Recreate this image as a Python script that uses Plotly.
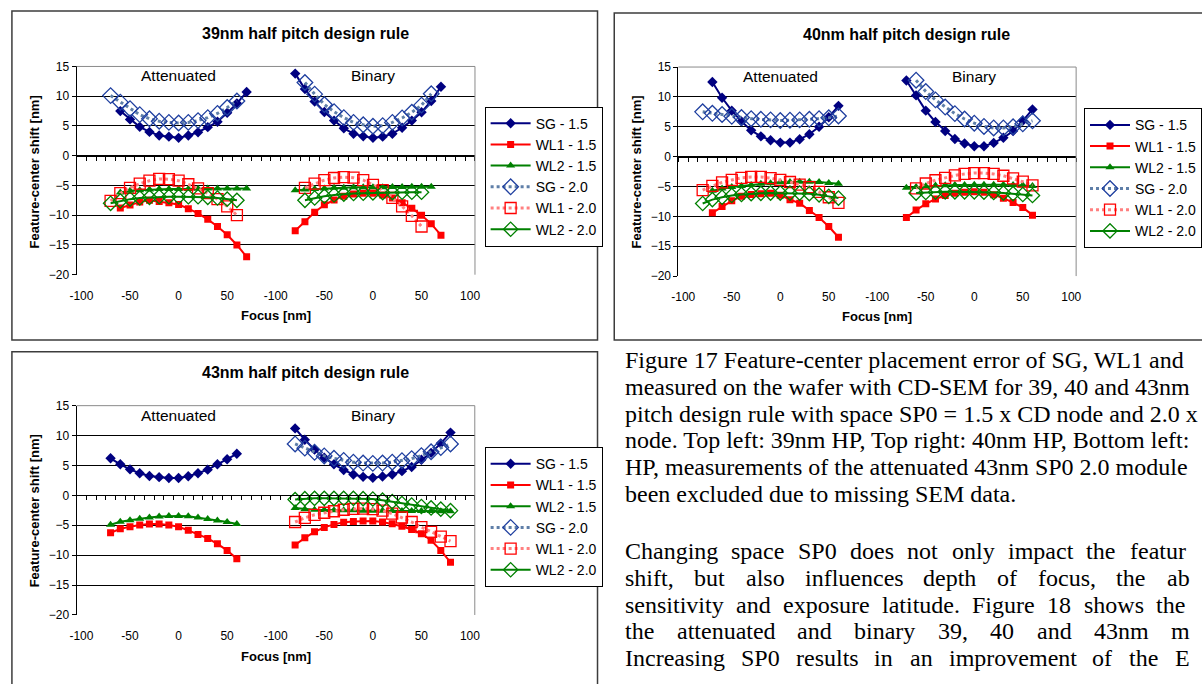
import plotly.graph_objects as go

W, H = 1202, 684

# ---------------- categories / labels ----------------
FOCUS_ATT = [-100, -90, -80, -70, -60, -50, -40, -30, -20, -10, 0, 10, 20, 30, 40, 50, 60, 70, 80, 90]
FOCUS_BIN = [-100, -90, -80, -70, -60, -50, -40, -30, -20, -10, 0, 10, 20, 30, 40, 50, 60, 70, 80, 90, 100]
SEGMENTS = ["Attenuated", "Binary"]
SERIES = ["SG - 1.5", "WL1 - 1.5", "WL2 - 1.5", "SG - 2.0", "WL1 - 2.0", "WL2 - 2.0"]
TITLES = ["39nm half pitch design rule", "40nm half pitch design rule", "43nm half pitch design rule"]
Y_TICKS = [-20, -15, -10, -5, 0, 5, 10, 15]

# ---------------- data: (first focus [nm], values every 10 nm) ----------------
# 39 nm half pitch
HP39_ATT_SG15 = (-60, [7.5, 6.1, 4.85, 4.0, 3.4, 3.2, 3.0, 3.4, 3.95, 4.8, 5.7, 7.2, 8.8, 10.7])
HP39_ATT_WL1_15 = (-60, [-8.8, -8.3, -7.8, -7.5, -7.7, -7.9, -8.2, -8.9, -9.7, -10.7, -11.9, -13.3, -15.0, -17.0])
HP39_ATT_WL2_15 = (-60, [-6.2, -5.9, -5.8, -5.7, -5.6, -5.6, -5.6, -5.6, -5.55, -5.5, -5.5, -5.5, -5.5, -5.5])
HP39_ATT_SG20 = (-70, [10.1, 9.0, 7.9, 6.9, 6.2, 5.8, 5.6, 5.5, 5.6, 5.9, 6.4, 7.1, 8.1, 9.2])
HP39_ATT_WL1_20 = (-70, [-7.6, -6.3, -5.4, -4.7, -4.2, -3.9, -3.95, -4.2, -4.8, -5.5, -6.3, -7.3, -8.5, -10.0])
HP39_ATT_WL2_20 = (-70, [-8.0, -7.6, -7.3, -7.1, -7.0, -6.9, -6.9, -6.9, -6.9, -6.9, -7.0, -7.1, -7.3, -7.5])
HP39_BIN_SG15 = (-80, [13.8, 11.2, 9.1, 7.35, 5.9, 4.6, 3.7, 3.25, 3.0, 3.2, 3.7, 4.7, 5.9, 7.3, 9.2, 11.6])
HP39_BIN_WL1_15 = (-80, [-12.6, -11.1, -9.5, -8.25, -7.45, -6.8, -6.45, -6.3, -6.3, -6.6, -7.1, -7.9, -8.85, -10.0, -11.45, -13.35])
HP39_BIN_WL2_15 = (-80, [-5.8, -5.7, -5.6, -5.5, -5.4, -5.4, -5.3, -5.3, -5.3, -5.3, -5.25, -5.25, -5.2, -5.2, -5.2])
HP39_BIN_SG20 = (-70, [12.3, 10.35, 8.6, 7.4, 6.4, 5.6, 5.2, 4.95, 5.05, 5.6, 6.35, 7.3, 8.5, 10.4])
HP39_BIN_WL1_20 = (-70, [-5.4, -4.7, -4.1, -3.75, -3.6, -3.7, -4.1, -4.9, -5.8, -7.1, -8.5, -10.1, -11.9])
HP39_BIN_WL2_20 = (-70, [-7.5, -7.1, -6.8, -6.6, -6.45, -6.35, -6.3, -6.25, -6.2, -6.2, -6.15, -6.15, -6.15])

# 40 nm half pitch
HP40_ATT_SG15 = (-70, [12.5, 9.85, 7.7, 5.9, 4.4, 3.4, 2.75, 2.35, 2.35, 2.9, 3.75, 5.0, 6.6, 8.5])
HP40_ATT_WL1_15 = (-70, [-9.4, -8.35, -7.4, -6.65, -6.35, -6.2, -6.15, -6.45, -7.2, -7.8, -9.0, -10.2, -11.7, -13.5])
HP40_ATT_WL2_15 = (-70, [-5.7, -5.35, -5.1, -4.9, -4.75, -4.55, -4.45, -4.3, -4.25, -4.2, -4.2, -4.25, -4.4, -4.55])
HP40_ATT_SG20 = (-80, [7.5, 7.25, 7.05, 6.75, 6.55, 6.35, 6.25, 6.15, 6.05, 6.1, 6.15, 6.25, 6.35, 6.5, 6.8])
HP40_ATT_WL1_20 = (-80, [-5.6, -4.9, -4.3, -3.9, -3.55, -3.4, -3.4, -3.6, -3.9, -4.25, -4.7, -5.1, -5.9, -6.8, -7.75])
HP40_ATT_WL2_20 = (-80, [-7.85, -7.2, -6.8, -6.5, -6.35, -6.2, -6.15, -6.1, -6.1, -6.1, -6.1, -6.2, -6.4, -6.65, -6.95])
HP40_BIN_SG15 = (-70, [12.75, 10.25, 7.7, 5.8, 4.3, 2.95, 2.2, 1.75, 1.75, 2.3, 3.15, 4.3, 6.0, 7.9])
HP40_BIN_WL1_15 = (-70, [-10.2, -8.95, -7.9, -7.1, -6.5, -6.15, -5.95, -5.9, -5.95, -6.4, -6.95, -7.7, -8.5, -9.8])
HP40_BIN_WL2_15 = (-70, [-5.2, -5.1, -4.95, -4.85, -4.8, -4.75, -4.75, -4.7, -4.7, -4.7, -4.7, -4.75, -4.8, -4.9])
HP40_BIN_SG20 = (-60, [12.8, 10.9, 9.5, 8.3, 7.2, 6.3, 5.6, 5.05, 4.8, 4.8, 5.0, 5.5, 6.0])
HP40_BIN_WL1_20 = (-60, [-5.3, -4.5, -3.95, -3.55, -3.15, -2.9, -2.75, -2.75, -2.9, -3.2, -3.65, -4.2, -4.8])
HP40_BIN_WL2_20 = (-60, [-6.1, -6.0, -5.95, -5.9, -5.9, -5.9, -5.9, -5.95, -6.0, -6.1, -6.2, -6.35, -6.5])

# 43 nm half pitch (attenuated SP0 2.0 excluded)
HP43_ATT_SG15 = (-70, [6.2, 5.2, 4.35, 3.7, 3.25, 3.05, 2.9, 2.9, 3.2, 3.7, 4.3, 5.2, 6.05, 6.95])
HP43_ATT_WL1_15 = (-70, [-6.25, -5.6, -5.25, -4.95, -4.8, -4.8, -4.95, -5.25, -5.85, -6.55, -7.2, -8.1, -9.2, -10.6])
HP43_ATT_WL2_15 = (-70, [-4.9, -4.4, -4.15, -3.9, -3.7, -3.55, -3.45, -3.45, -3.5, -3.7, -3.95, -4.2, -4.45, -4.8])
HP43_BIN_SG15 = (-80, [11.2, 9.3, 7.65, 6.3, 5.2, 4.25, 3.5, 3.1, 2.95, 3.15, 3.5, 4.05, 4.75, 5.95, 7.1, 8.7, 10.5])
HP43_BIN_WL1_15 = (-80, [-8.3, -7.1, -6.1, -5.35, -4.85, -4.5, -4.35, -4.3, -4.3, -4.45, -4.75, -5.15, -5.7, -6.4, -7.5, -9.2, -11.2])
HP43_BIN_WL2_15 = (-80, [-2.1, -2.3, -2.4, -2.45, -2.5, -2.5, -2.5, -2.55, -2.55, -2.55, -2.6, -2.6, -2.6, -2.6, -2.6, -2.65, -2.65])
HP43_BIN_SG20 = (-80, [8.6, 7.9, 7.2, 6.6, 6.2, 5.85, 5.55, 5.4, 5.35, 5.4, 5.55, 5.8, 6.15, 6.65, 7.3, 8.0, 8.6])
HP43_BIN_WL1_20 = (-80, [-4.45, -3.75, -3.25, -2.9, -2.65, -2.4, -2.25, -2.2, -2.3, -2.55, -3.05, -3.7, -4.45, -5.3, -6.1, -6.9, -7.65])
HP43_BIN_WL2_20 = (-80, [-0.7, -0.55, -0.5, -0.5, -0.5, -0.5, -0.5, -0.55, -0.6, -0.8, -1.05, -1.35, -1.6, -1.85, -2.1, -2.3, -2.55])

# ---------------- page text (as visible in the cropped page) ----------------
CAPTION_LINES = [
    "Figure 17 Feature-center placement error of SG, WL1 and",
    "measured on the wafer with CD-SEM for 39, 40 and 43nm",
    "pitch design rule with space SP0 = 1.5 x CD node and 2.0 x",
    "node. Top left: 39nm HP, Top right: 40nm HP, Bottom left:",
    "HP, measurements of the attenuated 43nm SP0 2.0 module",
    "been excluded due to missing SEM data.",
]
BODY_LINES = [
    ["Changing", "space", "SP0", "does", "not", "only", "impact", "the", "featur"],
    ["shift,", "but", "also", "influences", "depth", "of", "focus,", "the", "ab"],
    ["sensitivity", "and", "exposure", "latitude.", "Figure", "18", "shows", "the"],
    ["the", "attenuated", "and", "binary", "39,", "40", "and", "43nm", "m"],
    ["Increasing", "SP0", "results", "in", "an", "improvement", "of", "the", "E"],
]
# justified word starts (px)
BODY_WORD_X = [
    [626, 733.7, 801.4, 854.5, 912.9, 958, 1015.1, 1094.8, 1138.5],
    [626, 696.3, 748.6, 808.9, 929.1, 1004, 1045.6, 1125.2, 1176.1],
    [626, 738.3, 786.6, 886.8, 978.4, 1054.7, 1092.3, 1165.9],
    [626, 678.7, 800.7, 858.8, 943.5, 996.9, 1044.3, 1102.4, 1180.5],
    [626, 743.3, 799.3, 879.3, 915.3, 955.3, 1100.6, 1137.9, 1184.5],
]
CAPTION_Y = [360, 387.5, 415, 442.5, 470, 497.5]
BODY_Y = [555, 582.5, 610, 637.5, 665]

# ---------------- helpers ----------------
CATS = [("A", f) for f in FOCUS_ATT] + [("B", f) for f in FOCUS_BIN]
TICK_IDX = list(range(0, len(CATS), 5))
TICK_TXT = [str(CATS[i][1]) for i in TICK_IDX]


def series_xy(att, binr):
    xs, ys = [], []
    for seg, part in (("A", att), ("B", binr)):
        if part is None:
            continue
        start, vals = part
        flist = FOCUS_ATT if seg == "A" else FOCUS_BIN
        i0 = flist.index(start)
        for f, v in zip(flist[i0:], vals):
            xs.append(CATS.index((seg, f)))
            ys.append(v)
        xs.append(xs[-1] + 1)
        ys.append(None)
    return xs, ys


def px(x):
    return x / W


def py(y):
    return 1 - y / H


SANS = "Arial, Liberation Sans, sans-serif"
SERIF = "Times New Roman, Liberation Serif, serif"

STYLE = {
    "SG - 1.5": dict(line=dict(color="#000080", width=2),
                     marker=dict(symbol="diamond", size=8, color="#000080")),
    "WL1 - 1.5": dict(line=dict(color="#ff0000", width=2),
                      marker=dict(symbol="square", size=7, color="#ff0000")),
    "WL2 - 1.5": dict(line=dict(color="#008000", width=2),
                      marker=dict(symbol="triangle-up", size=8, color="#008000")),
    "SG - 2.0": dict(line=dict(color="#5f7fa8", width=3, dash="dot"),
                     marker=dict(symbol="diamond-open", size=12, color="#2040a0",
                                 line=dict(width=1.3, color="#2040a0"))),
    "WL1 - 2.0": dict(line=dict(color="#ff8080", width=3, dash="dot"),
                      marker=dict(symbol="square-open", size=11, color="#ff0000",
                                  line=dict(width=1.3, color="#ff0000"))),
    "WL2 - 2.0": dict(line=dict(color="#008000", width=2),
                      marker=dict(symbol="diamond-open", size=11, color="#008000",
                                  line=dict(width=1.3, color="#008000"))),
}

CHARTS = [
    dict(title=TITLES[0], xa="x", ya="y", leg="legend",
         plot=(70.7, 475.5, 60.7, 273.3), box=(5, 600, 4, 340),
         title_xy=(303, 26.7), ytitle_xy=(28.3, 168), xtitle_xy=(273, 315),
         legend_xy=(485.3, 101.7),
         data=[(HP39_ATT_SG15, HP39_BIN_SG15), (HP39_ATT_WL1_15, HP39_BIN_WL1_15),
               (HP39_ATT_WL2_15, HP39_BIN_WL2_15), (HP39_ATT_SG20, HP39_BIN_SG20),
               (HP39_ATT_WL1_20, HP39_BIN_WL1_20), (HP39_ATT_WL2_20, HP39_BIN_WL2_20)]),
    dict(title=TITLES[1], xa="x2", ya="y2", leg="legend2",
         plot=(682.2, 1086.3, 61.3, 274.7), box=(617, 1230, 6, 340),
         title_xy=(913.7, 28.3), ytitle_xy=(640, 168), xtitle_xy=(884, 316),
         legend_xy=(1094.3, 103.4),
         data=[(HP40_ATT_SG15, HP40_BIN_SG15), (HP40_ATT_WL1_15, HP40_BIN_WL1_15),
               (HP40_ATT_WL2_15, HP40_BIN_WL2_15), (HP40_ATT_SG20, HP40_BIN_SG20),
               (HP40_ATT_WL1_20, HP40_BIN_WL1_20), (HP40_ATT_WL2_20, HP40_BIN_WL2_20)]),
    dict(title=TITLES[2], xa="x3", ya="y3", leg="legend3",
         plot=(70.7, 475.3, 407, 620.7), box=(5, 600, 352, 720),
         title_xy=(303, 373.3), ytitle_xy=(28.3, 514), xtitle_xy=(273, 663.3),
         legend_xy=(485.3, 449.4),
         data=[(HP43_ATT_SG15, HP43_BIN_SG15), (HP43_ATT_WL1_15, HP43_BIN_WL1_15),
               (HP43_ATT_WL2_15, HP43_BIN_WL2_15), (None, HP43_BIN_SG20),
               (None, HP43_BIN_WL1_20), (None, HP43_BIN_WL2_20)]),
]

fig = go.Figure()
layout = dict(width=W, height=H, margin=dict(l=0, r=0, t=0, b=0),
              paper_bgcolor="white", plot_bgcolor="white", showlegend=True)
shapes, annotations = [], []
XRANGE = [-0.5, len(CATS) - 0.5]
YRANGE = [Y_TICKS[0], Y_TICKS[-1]]

for ci, ch in enumerate(CHARTS):
    x0, x1, y0, y1 = ch["plot"]
    xdom = [px(x0), px(x1)]
    ydom = [py(y1), py(y0)]
    xk = "xaxis" + ("" if ci == 0 else str(ci + 1))
    yk = "yaxis" + ("" if ci == 0 else str(ci + 1))
    zk_num = ci + 4
    zk = "xaxis" + str(zk_num)

    for name, (att, binr) in zip(SERIES, ch["data"]):
        xs, ys = series_xy(att, binr)
        st = STYLE[name]
        fig.add_trace(go.Scatter(x=xs, y=ys, mode="lines+markers", name=name,
                                 line=st["line"], marker=st["marker"],
                                 xaxis=ch["xa"], yaxis=ch["ya"], legend=ch["leg"],
                                 hoverinfo="skip"))
    # helper trace so the zero-crossing category axis gets drawn
    fig.add_trace(go.Scatter(x=[None], y=[None], xaxis="x" + str(zk_num), yaxis=ch["ya"],
                             showlegend=False, hoverinfo="skip"))

    layout[xk] = dict(domain=xdom, range=XRANGE, anchor=ch["ya"], tickvals=TICK_IDX,
                      ticktext=TICK_TXT, ticks="outside", ticklen=10,
                      tickcolor="rgba(0,0,0,0)", showline=False, showgrid=False,
                      zeroline=False, tickfont=dict(family=SANS, size=12, color="black"),
                      fixedrange=True)
    layout[yk] = dict(domain=ydom, range=YRANGE, anchor=ch["xa"], tickvals=Y_TICKS,
                      ticks="outside", ticklen=4, tickcolor="black", showline=True,
                      linecolor="black", linewidth=1, showgrid=True, gridcolor="black",
                      gridwidth=1, zeroline=False,
                      tickfont=dict(family=SANS, size=12, color="black"), fixedrange=True)
    zero_pos = ydom[0] + (0 - YRANGE[0]) / (YRANGE[1] - YRANGE[0]) * (ydom[1] - ydom[0])
    layout[zk] = dict(overlaying=ch["xa"], anchor="free", position=zero_pos, side="bottom",
                      range=XRANGE, tickvals=[i - 0.5 for i in range(len(CATS) + 1)],
                      ticks="outside", ticklen=4, tickcolor="black", showticklabels=False,
                      showline=True, linecolor="black", linewidth=1, showgrid=False,
                      zeroline=False, fixedrange=True)

    # plot area border (top/right) in grey
    xdref = ch["xa"] + " domain"
    ydref = ch["ya"] + " domain"
    shapes.append(dict(type="line", xref=xdref, yref=ydref, x0=0, x1=1, y0=1, y1=1,
                       line=dict(color="#8a8a8a", width=1), layer="above"))
    shapes.append(dict(type="line", xref=xdref, yref=ydref, x0=1, x1=1, y0=0, y1=1,
                       line=dict(color="#8a8a8a", width=1), layer="above"))
    # chart frame
    bx0, bx1, by0, by1 = ch["box"]
    shapes.append(dict(type="rect", xref="paper", yref="paper", x0=px(bx0), x1=px(bx1),
                       y0=py(by1), y1=py(by0), line=dict(color="#3c3c3c", width=1.5),
                       fillcolor="rgba(0,0,0,0)", layer="below"))

    # legend
    lx, ly = ch["legend_xy"]
    layout[ch["leg"]] = dict(x=px(lx), y=py(ly), xanchor="left", yanchor="top",
                             xref="paper", yref="paper", bgcolor="white",
                             bordercolor="black", borderwidth=1, tracegroupgap=0,
                             itemwidth=40,
                             font=dict(family=SANS, size=14, color="black"))

    # titles
    tx, ty = ch["title_xy"]
    annotations.append(dict(text="<b>" + ch["title"] + "</b>", x=px(tx), y=py(ty),
                            xref="paper", yref="paper", xanchor="center", yanchor="middle",
                            showarrow=False, font=dict(family=SANS, size=16, color="black")))
    yx, yy = ch["ytitle_xy"]
    annotations.append(dict(text="<b>Feature-center shift [nm]</b>", x=px(yx), y=py(yy),
                            xref="paper", yref="paper", xanchor="center", yanchor="middle",
                            textangle=-90, showarrow=False,
                            font=dict(family=SANS, size=13, color="black")))
    fx, fy = ch["xtitle_xy"]
    annotations.append(dict(text="<b>Focus [nm]</b>", x=px(fx), y=py(fy),
                            xref="paper", yref="paper", xanchor="center", yanchor="middle",
                            showarrow=False, font=dict(family=SANS, size=13, color="black")))
    # segment labels centred on focus 0 of each segment
    for seg_key, seg_name in zip(("A", "B"), SEGMENTS):
        annotations.append(dict(text=seg_name, x=CATS.index((seg_key, 0)), y=13.4,
                                xref=ch["xa"], yref=ch["ya"], xanchor="center",
                                yanchor="middle", showarrow=False,
                                font=dict(family=SANS, size=15.5, color="black")))

# page text
for line, y in zip(CAPTION_LINES, CAPTION_Y):
    annotations.append(dict(text=line, x=px(626), y=py(y), xref="paper", yref="paper",
                            xanchor="left", yanchor="middle", showarrow=False,
                            font=dict(family=SERIF, size=24, color="black")))
for words, xs, y in zip(BODY_LINES, BODY_WORD_X, BODY_Y):
    for wd, wx in zip(words, xs):
        annotations.append(dict(text=wd, x=px(wx), y=py(y), xref="paper", yref="paper",
                                xanchor="left", yanchor="middle", showarrow=False,
                                font=dict(family=SERIF, size=24, color="black")))

layout["shapes"] = shapes
layout["annotations"] = annotations
fig.update_layout(**layout)
fig.write_html("out.html",
               config={"displayModeBar": False, "staticPlot": True},
               post_script="document.body.style.margin='0px';document.body.style.padding='0px';")
